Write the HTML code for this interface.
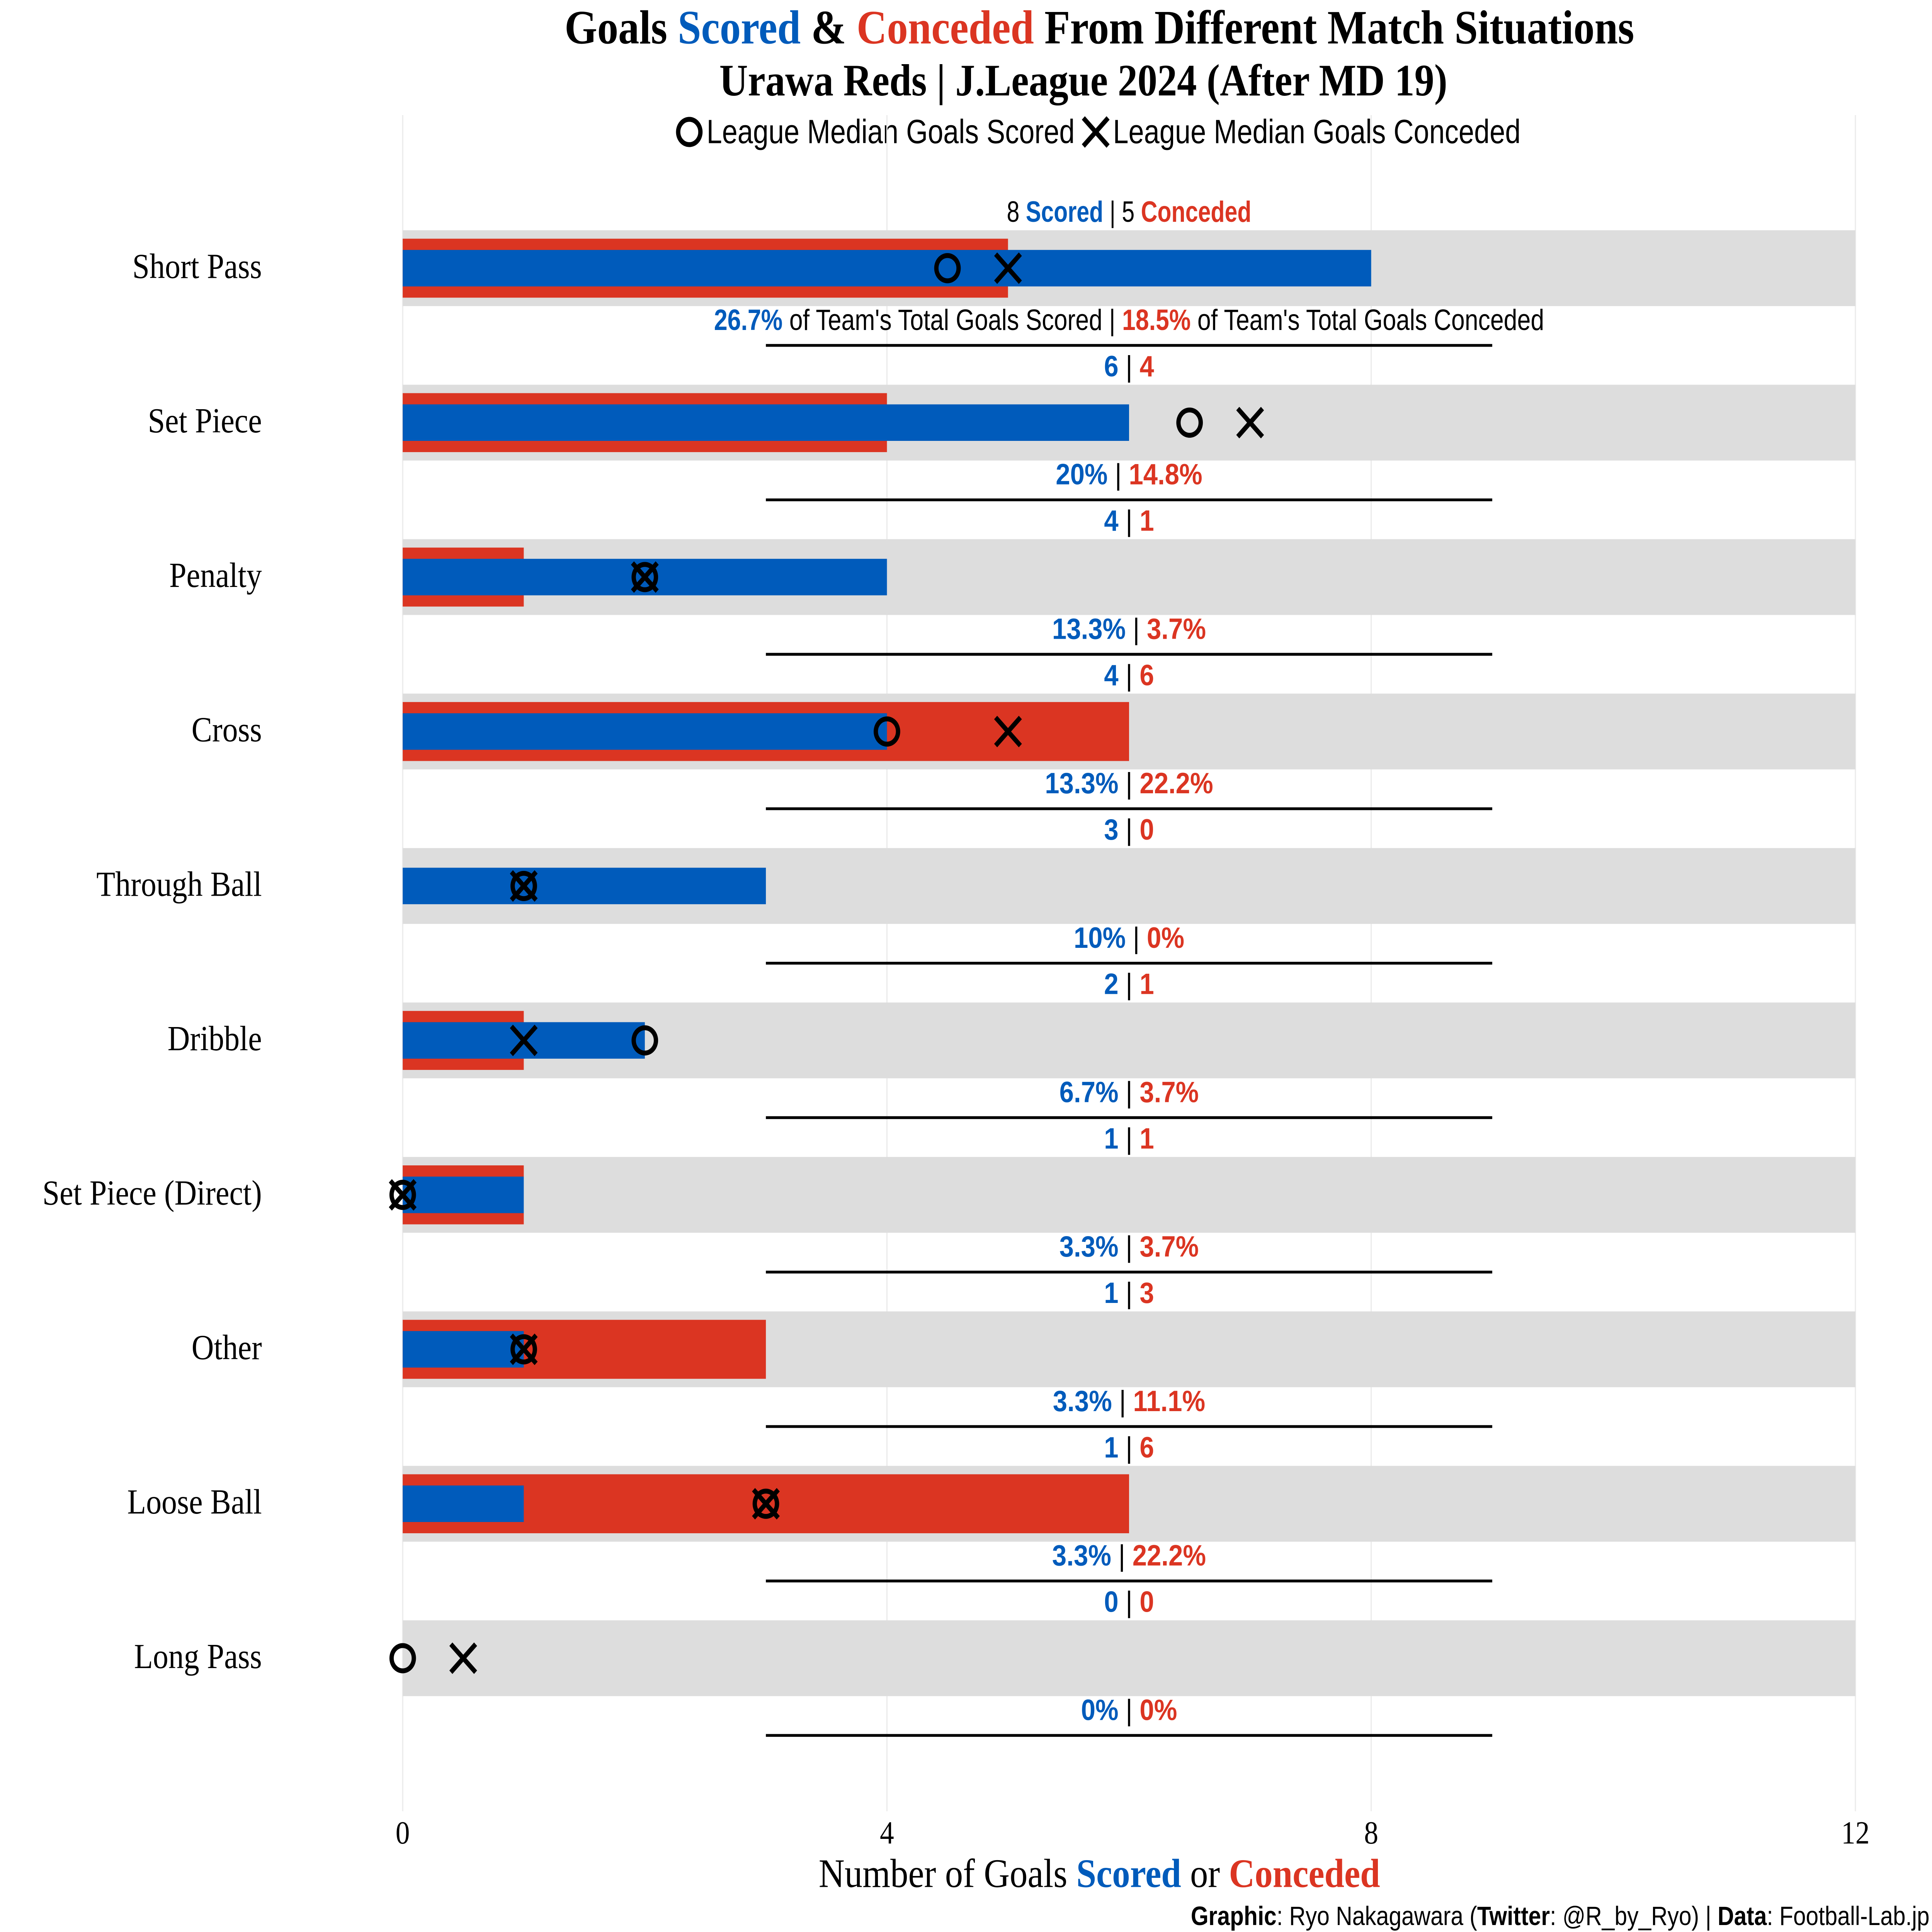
<!DOCTYPE html>
<html><head><meta charset="utf-8"><style>
html,body{margin:0;padding:0;background:#fff;width:100%;height:100%;overflow:hidden;}
svg{display:block;width:100vw;height:100vh;}
.serif{font-family:"Liberation Serif",serif;}
.cond{font-family:"Liberation Sans Narrow","Liberation Sans",sans-serif;}
</style></head><body>
<svg id="chart" viewBox="0 0 1564 1376" preserveAspectRatio="none" xmlns="http://www.w3.org/2000/svg">
<text class="serif" x="890" y="31" text-anchor="middle" font-size="34" font-weight="bold">Goals <tspan fill="#005BBB">Scored</tspan> &amp; <tspan fill="#DB3522">Conceded</tspan> From Different Match Situations</text>
<text class="serif" x="877" y="68" text-anchor="middle" font-size="32" font-weight="bold">Urawa Reds | J.League 2024 (After MD 19)</text>
<g>
<circle cx="558" cy="94" r="9" fill="none" stroke="#000" stroke-width="3.5"/>
<text class="cond" x="572" y="102" font-size="24" textLength="298" lengthAdjust="spacingAndGlyphs">League Median Goals Scored</text>
<path d="M877,84 L897,104 M897,84 L877,104" stroke="#000" stroke-width="3.5"/>
<text class="cond" x="901" y="102" font-size="24" textLength="330" lengthAdjust="spacingAndGlyphs">League Median Goals Conceded</text>
</g>
<g id="grid"></g>
<g id="rows"></g>
<g id="xticks"></g>
<text class="serif" x="890" y="1344" text-anchor="middle" font-size="29">Number of Goals <tspan fill="#005BBB" font-weight="bold">Scored</tspan> or <tspan fill="#DB3522" font-weight="bold">Conceded</tspan></text>
<text class="cond" x="1562" y="1371" text-anchor="end" font-size="19" textLength="598" lengthAdjust="spacingAndGlyphs"><tspan font-weight="bold">Graphic</tspan>: Ryo Nakagawara (<tspan font-weight="bold">Twitter</tspan>: @R_by_Ryo) | <tspan font-weight="bold">Data</tspan>: Football-Lab.jp</text>
</svg>
<script>
const categories=["Short Pass","Set Piece","Penalty","Cross","Through Ball","Dribble","Set Piece (Direct)","Other","Loose Ball","Long Pass"];
const scored=[8,6,4,4,3,2,1,1,1,0];
const conceded=[5,4,1,6,0,1,1,3,6,0];
const medianScored=[4.5,6.5,2,4,1,2,0,1,3,0];
const medianConceded=[5,7,2,5,1,1,0,1,3,0.5];
const totalScored=30;
const totalConceded=27;
const xTicks=[0,4,8,12];

const NS="http://www.w3.org/2000/svg";
const X0=326,PX=98;
const xs=v=>X0+v*PX;
const yc=i=>190+i*110;
function mk(tag,attrs,parent,text){const e=document.createElementNS(NS,tag);for(const k in attrs)e.setAttribute(k,attrs[k]);if(text!==undefined)e.textContent=text;parent.appendChild(e);return e;}
function pct(a,t){if(a===0)return"0%";const v=Math.round(a/t*1000)/10;return (v%1===0?v.toFixed(0):v.toFixed(1))+"%";}
const BLUE="#005BBB",RED="#DB3522";
const grid=document.getElementById("grid");
xTicks.forEach(t=>{
 const l=mk("line",{x1:xs(t),x2:xs(t),y1:82,y2:1290,stroke:"#ebebeb","stroke-width":1},grid);
 
 
 const tx=mk("text",{x:xs(t),y:1313,"text-anchor":"middle","font-size":23,class:"serif"},document.getElementById("xticks"),String(t));
 
 
});
const rows=document.getElementById("rows");
categories.forEach((c,i)=>{
 const y=yc(i);
 const g=mk("g",{},rows);
 
 
 const bg=mk("rect",{x:xs(0),y:y-26,width:xs(12)-xs(0),height:54,fill:"#DDDDDD"},g);
 
 
 const r=mk("rect",{x:xs(0),y:y-20,width:conceded[i]*PX,height:42,fill:RED},g);
 
 
 const b=mk("rect",{x:xs(0),y:y-12,width:scored[i]*PX,height:26,fill:BLUE},g);
 
 
 const mcx=xs(medianScored[i]);
 const ci=mk("circle",{cx:mcx,cy:y+1,r:9,fill:"none",stroke:"#000","stroke-width":3.5},g);
 
 
 const kx=xs(medianConceded[i]);
 const cr=mk("path",{d:`M${kx-10},${y-9} L${kx+10},${y+11} M${kx+10},${y-9} L${kx-10},${y+11}`,stroke:"#000","stroke-width":3.5},g);
 
 
 const lab=mk("text",{x:212,y:y+8,"text-anchor":"end","font-size":25,class:"serif"},g,c);
 
 
 const top=mk("text",{x:914,y:y-32,"text-anchor":"middle","font-size":21,class:"cond"},g);
 
 
 const pl=mk("text",{x:914,y:y+45,"text-anchor":"middle","font-size":21,class:"cond"},g);
 
 
 if(i===0){
  top.innerHTML=`${scored[i]} <tspan fill="${BLUE}" font-weight="bold">Scored</tspan> | ${conceded[i]} <tspan fill="${RED}" font-weight="bold">Conceded</tspan>`;
  pl.innerHTML=`<tspan fill="${BLUE}" font-weight="bold">${pct(scored[i],totalScored)}</tspan> of Team's Total Goals Scored | <tspan fill="${RED}" font-weight="bold">${pct(conceded[i],totalConceded)}</tspan> of Team's Total Goals Conceded`;
  top.setAttribute('textLength','198');top.setAttribute('lengthAdjust','spacingAndGlyphs');
  pl.setAttribute('textLength','672');pl.setAttribute('lengthAdjust','spacingAndGlyphs');
 } else {
  top.innerHTML=`<tspan fill="${BLUE}" font-weight="bold">${scored[i]}</tspan> | <tspan fill="${RED}" font-weight="bold">${conceded[i]}</tspan>`;
  pl.innerHTML=`<tspan fill="${BLUE}" font-weight="bold">${pct(scored[i],totalScored)}</tspan> | <tspan fill="${RED}" font-weight="bold">${pct(conceded[i],totalConceded)}</tspan>`;
 }
 const sep=mk("line",{x1:xs(3),x2:xs(9),y1:y+56,y2:y+56,stroke:"#000","stroke-width":2},g);
 
 
});
</script>
</body></html>
